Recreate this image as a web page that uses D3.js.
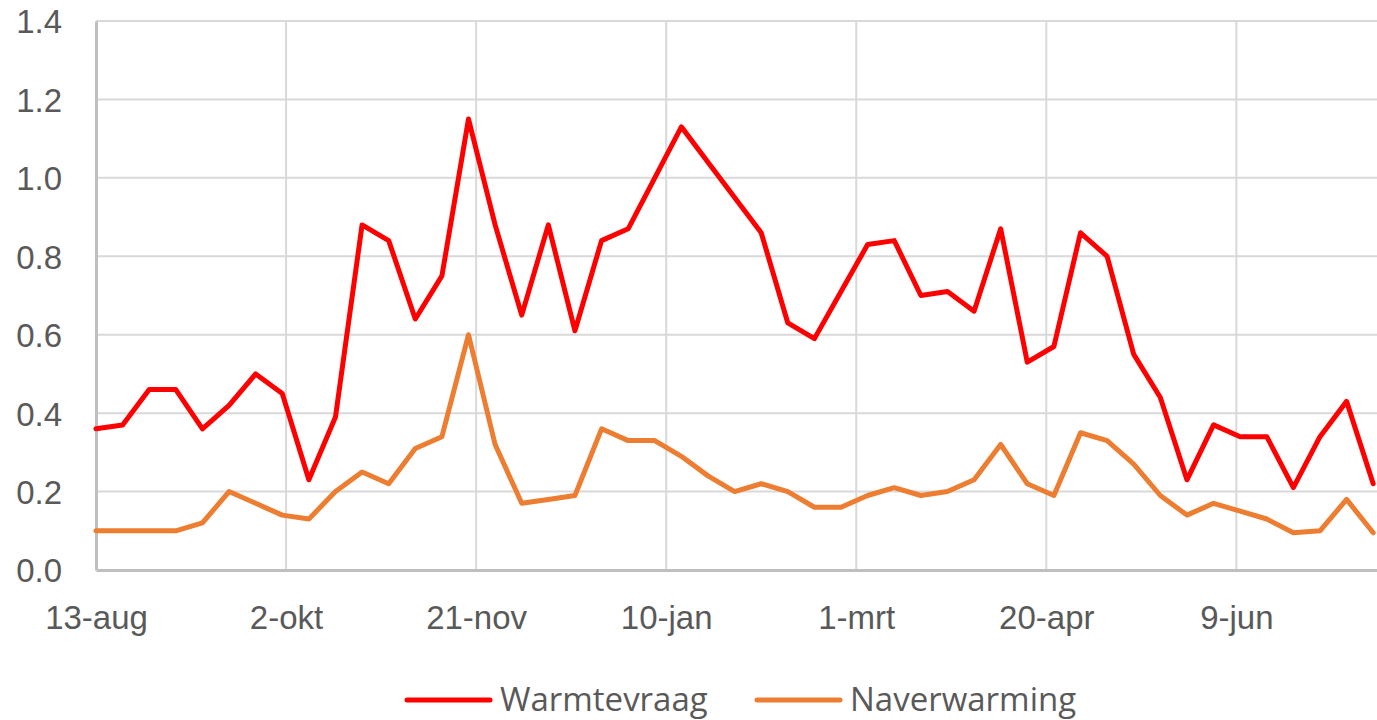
<!DOCTYPE html>
<html>

<head>
    <script src="https://d3js.org/d3.v7.min.js"></script>
    <title>Warmtevraag en naverwarming</title>
    <style>
        body {
            margin: 0;
            background: white;
            font-family: "Open Sans", Lato, sans-serif;
        }

        .axis text {
            fill: #595959;
        }
    </style>
</head>

<body>
    <svg id="chart" width="1377" height="720"></svg>

    <script>
        // weekly dates (x categories)
        var dates = [
            "2018-08-13", "2018-08-20", "2018-08-27", "2018-09-03", "2018-09-10", "2018-09-17", "2018-09-24",
            "2018-10-01", "2018-10-08", "2018-10-15", "2018-10-22", "2018-10-29", "2018-11-05", "2018-11-12",
            "2018-11-19", "2018-11-26", "2018-12-03", "2018-12-10", "2018-12-17", "2018-12-24", "2018-12-31",
            "2019-01-07", "2019-01-14", "2019-01-21", "2019-01-28", "2019-02-04", "2019-02-11", "2019-02-18",
            "2019-02-25", "2019-03-04", "2019-03-11", "2019-03-18", "2019-03-25", "2019-04-01", "2019-04-08",
            "2019-04-15", "2019-04-22", "2019-04-29", "2019-05-06", "2019-05-13", "2019-05-20", "2019-05-27",
            "2019-06-03", "2019-06-10", "2019-06-17", "2019-06-24", "2019-07-01", "2019-07-08", "2019-07-15"
        ];

        var warmtevraag = [
            0.36, 0.37, 0.46, 0.46, 0.36, 0.42, 0.50, 0.45, 0.23, 0.39,
            0.88, 0.84, 0.64, 0.75, 1.15, 0.88, 0.65, 0.88, 0.61, 0.84,
            0.87, 1.00, 1.13, 1.04, 0.95, 0.86, 0.63, 0.59, 0.71, 0.83,
            0.84, 0.70, 0.71, 0.66, 0.87, 0.53, 0.57, 0.86, 0.80, 0.55,
            0.44, 0.23, 0.37, 0.34, 0.34, 0.21, 0.34, 0.43, 0.22
        ];

        var naverwarming = [
            0.10, 0.10, 0.10, 0.10, 0.12, 0.20, 0.17, 0.14, 0.13, 0.20,
            0.25, 0.22, 0.31, 0.34, 0.60, 0.32, 0.17, 0.18, 0.19, 0.36,
            0.33, 0.33, 0.29, 0.24, 0.20, 0.22, 0.20, 0.16, 0.16, 0.19,
            0.21, 0.19, 0.20, 0.23, 0.32, 0.22, 0.19, 0.35, 0.33, 0.27,
            0.19, 0.14, 0.17, 0.15, 0.13, 0.095, 0.10, 0.18, 0.095
        ];

        var tickDates = ["2018-08-13", "2018-10-02", "2018-11-21", "2019-01-10", "2019-03-01", "2019-04-20", "2019-06-09"];
        var tickLabels = ["13-aug", "2-okt", "21-nov", "10-jan", "1-mrt", "20-apr", "9-jun"];
        var yTicks = [0, 0.2, 0.4, 0.6, 0.8, 1.0, 1.2, 1.4];

        var seriesNames = ["Warmtevraag", "Naverwarming"];
        var seriesColors = ["#ff0000", "#ed7d31"];

        var parse = d3.utcParse("%Y-%m-%d");
        var svg = d3.select("#chart");

        var plotLeft = 96, plotRight = 1377, plotTop = 21, plotBottom = 570;

        var x = d3.scaleUtc()
            .domain([parse("2018-08-13"), parse("2019-07-16")])
            .range([plotLeft, plotRight]);
        var y = d3.scaleLinear().domain([0, 1.4]).range([plotBottom, plotTop]);

        // gridlines
        svg.append("g")
            .selectAll("line.hgrid").data(yTicks.slice(1)).enter().append("line")
            .attr("x1", plotLeft).attr("x2", plotRight)
            .attr("y1", function (d) { return y(d); })
            .attr("y2", function (d) { return y(d); })
            .attr("stroke", "#d9d9d9").attr("stroke-width", 2);

        svg.append("g")
            .selectAll("line.vgrid").data(tickDates.slice(1)).enter().append("line")
            .attr("x1", function (d) { return x(parse(d)); })
            .attr("x2", function (d) { return x(parse(d)); })
            .attr("y1", plotTop).attr("y2", plotBottom)
            .attr("stroke", "#d9d9d9").attr("stroke-width", 2);

        // axes
        var yAxis = svg.append("g")
            .attr("class", "axis")
            .attr("transform", "translate(" + plotLeft + ",0)")
            .call(d3.axisLeft(y).tickValues(yTicks).tickFormat(d3.format(".1f")).tickSize(0).tickPadding(34));
        yAxis.select(".domain").attr("stroke", "#bfbfbf").attr("stroke-width", 3);
        yAxis.selectAll("text").style("font-size", "33px").attr("dy", "0.36em");

        var xAxis = svg.append("g")
            .attr("class", "axis")
            .attr("transform", "translate(0," + plotBottom + ")")
            .call(d3.axisBottom(x)
                .tickValues(tickDates.map(parse))
                .tickFormat(function (d, i) { return tickLabels[i]; })
                .tickSize(0).tickPadding(59));
        xAxis.select(".domain").attr("stroke", "#bfbfbf").attr("stroke-width", 3);
        xAxis.selectAll("text").style("font-size", "33px").attr("dy", "0");

        // lines
        var line = d3.line()
            .x(function (d, i) { return x(parse(dates[i])); })
            .y(function (d) { return y(d); });

        [warmtevraag, naverwarming].forEach(function (vals, k) {
            svg.append("path")
                .datum(vals)
                .attr("d", line)
                .attr("fill", "none")
                .attr("stroke", seriesColors[k])
                .attr("stroke-width", 5)
                .attr("stroke-linejoin", "round")
                .attr("stroke-linecap", "round");
        });

        // legend
        var legendX = [407, 757];
        var legend = svg.append("g");
        seriesNames.forEach(function (name, k) {
            legend.append("line")
                .attr("x1", legendX[k]).attr("x2", legendX[k] + 83)
                .attr("y1", 700).attr("y2", 700)
                .attr("stroke", seriesColors[k]).attr("stroke-width", 5)
                .attr("stroke-linecap", "round");
            legend.append("text")
                .attr("x", legendX[k] + 93).attr("y", 711)
                .attr("fill", "#595959")
                .style("font-size", "33px")
                .text(name);
        });
    </script>
</body>

</html>
